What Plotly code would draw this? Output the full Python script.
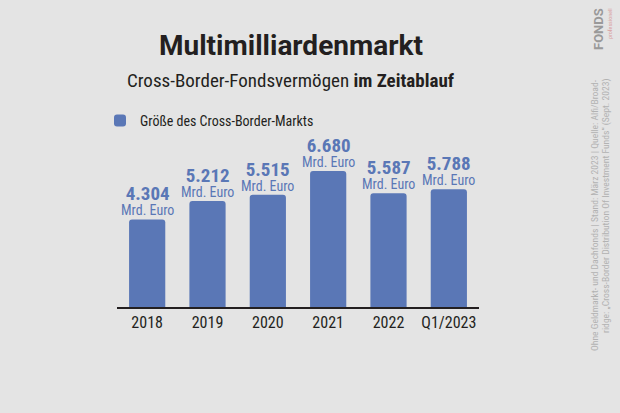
import plotly.graph_objects as go

categories = ["2018", "2019", "2020", "2021", "2022", "Q1/2023"]
values = [4304, 5212, 5515, 6680, 5587, 5788]
series_name = "Größe des Cross-Border-Markts"
unit_label = "Mrd. Euro"
title_text = "Multimilliardenmarkt"
subtitle_text = "Cross-Border-Fondsvermögen <b>im Zeitablauf</b>"
source_line1 = "Ohne Geldmarkt- und Dachfonds | Stand: März 2023 | Quelle: Alfi/Broad-"
source_line2 = "ridge: „Cross-Border Distribution Of Investment Funds“ (Sept. 2023)"
logo_text = "FONDS"
logo_sub = "professionell"

W, H = 620, 413
ML, MR, MT, MB = 117, 141, 150, 106
BG = "#e4e4e4"
BAR = "#5a77b6"
DARK = "#231f20"
COND = "Roboto Condensed, DejaVu Sans Condensed, sans-serif"
BOLD = "Roboto, sans-serif"

pw = W - ML - MR
ph = H - MT - MB


def px_x(x):
    return (x - ML) / pw


def px_y(y):
    return (H - MB - y) / ph


def fmt(v):
    return f"{v:,}".replace(",", ".")


fig = go.Figure()
fig.add_trace(go.Bar(
    x=categories, y=values, name=series_name,
    marker=dict(color=BAR, cornerradius=3, line=dict(width=0)),
    width=0.6, showlegend=True,
))

ann = []
for i, v in enumerate(values):
    ann.append(dict(x=i, y=v, xref="x", yref="y",
                    text=f"<span style='font-size:19px'><b>{fmt(v)}</b></span><br>"
                         f"<span style='font-size:14px'>{unit_label}</span>",
                    showarrow=False, yanchor="bottom", yshift=-1,
                    font=dict(family=COND, size=11.5, color=BAR)))

ann.append(dict(x=px_x(291), y=px_y(46), xref="paper", yref="paper", text=f"<b>{title_text}</b>",
                showarrow=False, xanchor="center", yanchor="middle",
                font=dict(family=BOLD, size=28, color=DARK)))
ann.append(dict(x=px_x(291), y=px_y(80), xref="paper", yref="paper", text=subtitle_text,
                showarrow=False, xanchor="center", yanchor="middle",
                font=dict(family=COND, size=19, color=DARK)))
ann.append(dict(x=px_x(594), y=px_y(215), xref="paper", yref="paper", text=source_line1,
                showarrow=False, textangle=-90, xanchor="center", yanchor="middle",
                font=dict(family=COND, size=9.6, color="#b2b2b2")))
ann.append(dict(x=px_x(606), y=px_y(206), xref="paper", yref="paper", text=source_line2,
                showarrow=False, textangle=-90, xanchor="center", yanchor="middle",
                font=dict(family=COND, size=9.6, color="#b2b2b2")))
ann.append(dict(x=px_x(599), y=px_y(29), xref="paper", yref="paper", text=logo_text,
                showarrow=False, textangle=-90, xanchor="center", yanchor="middle",
                font=dict(family=BOLD, size=13, weight="bold", color="#999999")))
ann.append(dict(x=px_x(609), y=px_y(24), xref="paper", yref="paper", text=logo_sub,
                showarrow=False, textangle=-90, xanchor="center", yanchor="middle",
                font=dict(family=COND, size=6, color="#d9a0a0")))

fig.update_layout(
    width=W, height=H,
    margin=dict(l=ML, r=MR, t=MT, b=MB, pad=0, autoexpand=False),
    paper_bgcolor=BG, plot_bgcolor=BG,
    showlegend=True,
    legend=dict(x=px_x(100), y=px_y(121), xanchor="left", yanchor="middle",
                xref="paper", yref="paper",
                font=dict(family=COND, size=14, color=DARK),
                bgcolor="rgba(0,0,0,0)", itemwidth=30),
    xaxis=dict(type="category", range=[-0.5, 5.5], showline=True, linecolor=DARK, linewidth=1.5,
               showgrid=False, zeroline=False, ticks="",
               tickfont=dict(family=COND, size=16, color=DARK), fixedrange=True),
    yaxis=dict(range=[0, 7712], visible=False, showgrid=False, zeroline=False, fixedrange=True),
    annotations=ann,
)

fig.write_html("out.html", config={"displayModeBar": False},
               post_script="document.body.style.margin='0';document.body.style.background='" + BG + "';")
